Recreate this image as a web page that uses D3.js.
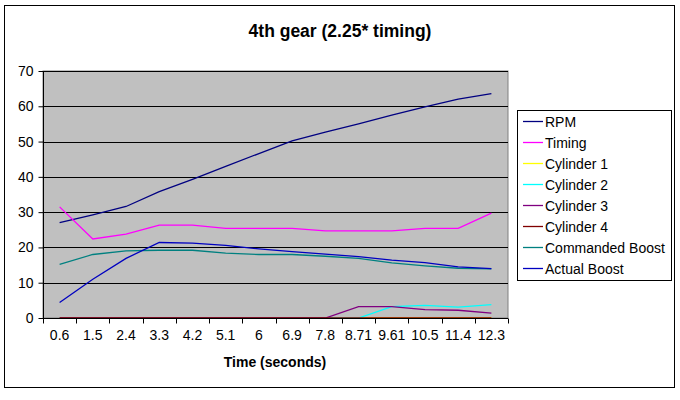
<!DOCTYPE html>
<html>
<head>
<meta charset="utf-8">
<script src="https://cdn.jsdelivr.net/npm/d3@7"></script>
<style>
  html, body { margin: 0; padding: 0; background: #fff; }
  svg { display: block; font-family: "Liberation Sans", Arial, sans-serif; }
</style>
</head>
<body>
<svg id="chart" width="680" height="400"></svg>
<script>
// ---- data ----
const categories = ["0.6", "1.5", "2.4", "3.3", "4.2", "5.1", "6", "6.9", "7.8", "8.71", "9.61", "10.5", "11.4", "12.3"];
const rpm            = [27, 29.2, 31.6, 35.8, 39.3, 43, 46.6, 50.2, 52.7, 55, 57.5, 59.8, 62, 63.6];
const timing         = [31.5, 22.4, 23.8, 26.3, 26.3, 25.4, 25.4, 25.4, 24.7, 24.7, 24.7, 25.4, 25.4, 29.7];
const cylinder1      = [0, 0, 0, 0, 0, 0, 0, 0, 0, 0, 0, 0, 0, 0];
const cylinder2      = [0, 0, 0, 0, 0, 0, 0, 0, 0, 0, 3.2, 3.6, 3.1, 3.8];
const cylinder3      = [0, 0, 0, 0, 0, 0, 0, 0, 0, 3.2, 3.2, 2.4, 2.2, 1.4];
const cylinder4      = [0, 0, 0, 0, 0, 0, 0, 0, 0, 0, 0, 0, 0, 0];
const commandedBoost = [15.2, 18, 19, 19.2, 19.2, 18.4, 18, 18, 17.5, 16.9, 15.6, 14.8, 14.1, 13.9];
const actualBoost    = [4.4, 11, 16.9, 21.4, 21.2, 20.6, 19.6, 18.8, 18.1, 17.4, 16.4, 15.7, 14.5, 14];
const yTicks = [0, 10, 20, 30, 40, 50, 60, 70];

const seriesNames  = ["RPM", "Timing", "Cylinder 1", "Cylinder 2", "Cylinder 3", "Cylinder 4", "Commanded Boost", "Actual Boost"];
const seriesValues = [rpm, timing, cylinder1, cylinder2, cylinder3, cylinder4, commandedBoost, actualBoost];
const seriesColors = ["#000080", "#ff00ff", "#ffff00", "#00ffff", "#800080", "#800000", "#008080", "#0000c0"];

// ---- layout ----
const svg = d3.select("#chart");
const plot = { left: 43, right: 508, top: 71, bottom: 318 };

// outer border
svg.append("rect").attr("x", 4.5).attr("y", 5.5).attr("width", 670).attr("height", 382)
  .attr("fill", "#fff").attr("stroke", "#000").attr("stroke-width", 1);

// title
svg.append("text").attr("x", 340).attr("y", 37).attr("text-anchor", "middle")
  .attr("font-size", "17.5px").attr("font-weight", "bold").text("4th gear (2.25* timing)");

const x = d3.scaleBand().domain(categories).range([plot.left, plot.right]).padding(0);
const y = d3.scaleLinear().domain([0, 70]).range([plot.bottom, plot.top]);
const cx = c => x(c) + x.bandwidth() / 2;

// plot background
svg.append("rect").attr("x", plot.left).attr("y", plot.top)
  .attr("width", plot.right - plot.left).attr("height", plot.bottom - plot.top)
  .attr("fill", "#c0c0c0").attr("stroke", "#808080").attr("stroke-width", 1);

// gridlines
svg.append("g").selectAll("line").data(yTicks.filter(t => t > 0)).join("line")
  .attr("x1", plot.left).attr("x2", plot.right)
  .attr("y1", d => Math.round(y(d)) + 0.5).attr("y2", d => Math.round(y(d)) + 0.5)
  .attr("stroke", "#000").attr("stroke-width", 1);

// series lines
const line = d3.line().x((d, i) => cx(categories[i])).y(d => y(d));
svg.append("g").selectAll("path").data(seriesValues).join("path")
  .attr("d", d => line(d))
  .attr("fill", "none")
  .attr("stroke", (d, i) => seriesColors[i])
  .attr("stroke-width", 1.3);

// y axis
const yAxis = svg.append("g").attr("transform", `translate(${plot.left + 0.5},0)`)
  .call(d3.axisLeft(y).tickValues(yTicks).tickSize(5).tickPadding(5).tickFormat(d3.format("d")));
yAxis.select(".domain").attr("stroke", "#000").attr("d", `M0,${plot.top}V${plot.bottom}`);
yAxis.selectAll(".tick line").attr("stroke", "#000");
yAxis.selectAll("text").attr("font-size", "14px").attr("font-family", "Liberation Sans, Arial, sans-serif").attr("fill", "#000");

// x axis
const xAxis = svg.append("g").attr("transform", `translate(0,${plot.bottom + 0.5})`)
  .call(d3.axisBottom(x).tickSize(0).tickPadding(12));
xAxis.select(".domain").attr("stroke", "#000").attr("d", `M${plot.left},0H${plot.right}`);
xAxis.selectAll("text").attr("font-size", "14px").attr("font-family", "Liberation Sans, Arial, sans-serif").attr("fill", "#000");
// boundary tick marks
const bounds = categories.map(c => x(c)).concat([x.range()[1]]);
xAxis.selectAll(".bound").data(bounds).join("line").attr("class", "bound")
  .attr("x1", d => Math.round(d) + 0.5).attr("x2", d => Math.round(d) + 0.5)
  .attr("y1", 0).attr("y2", 5).attr("stroke", "#000");

// x axis title
svg.append("text").attr("x", 275).attr("y", 367).attr("text-anchor", "middle")
  .attr("font-size", "14px").attr("font-weight", "bold").text("Time (seconds)");

// legend
const lg = svg.append("g");
lg.append("rect").attr("x", 517.5).attr("y", 110.5).attr("width", 154).attr("height", 170)
  .attr("fill", "#fff").attr("stroke", "#000");
const items = lg.selectAll("g.item").data(seriesNames).join("g").attr("class", "item")
  .attr("transform", (d, i) => `translate(0,${121.5 + i * 21})`);
items.append("line").attr("x1", 523).attr("x2", 543).attr("y1", 0).attr("y2", 0)
  .attr("stroke", (d, i) => seriesColors[i]).attr("stroke-width", 1.3);
items.append("text").attr("x", 545).attr("y", 5).attr("font-size", "14px").text(d => d);
</script>
</body>
</html>
